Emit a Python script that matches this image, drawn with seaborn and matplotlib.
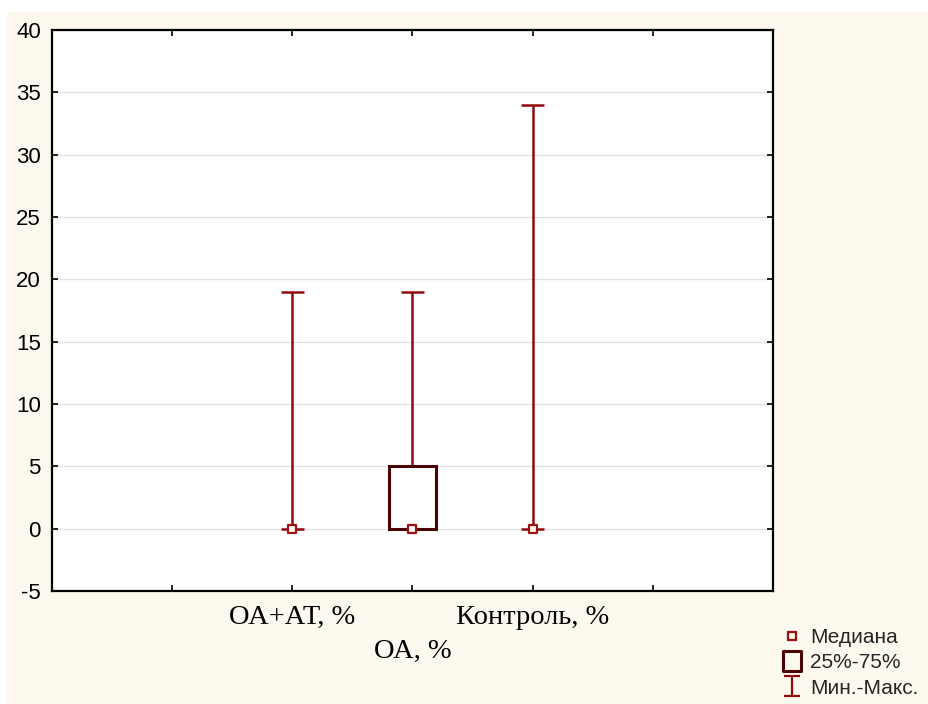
import matplotlib
matplotlib.use("Agg")
import matplotlib.pyplot as plt
from matplotlib.patches import Rectangle
from matplotlib.lines import Line2D
from matplotlib.path import Path
import seaborn as sns
import pandas as pd

# ---- data ----
categories = ["ОА+АТ, %", "ОА, %", "Контроль, %"]
medians = [0, 0, 0]
q1 = [0, 0, 0]
q3 = [0, 5, 0]
mins = [0, 0, 0]
maxs = [19, 19, 34]
positions = [2, 3, 4]
y_ticks = [-5, 0, 5, 10, 15, 20, 25, 30, 35, 40]
legend_labels = ["Медиана", "25%-75%", "Мин.-Макс."]

sns.set_theme(style="white")
plt.rcParams["font.family"] = ["Liberation Sans", "DejaVu Sans"]
plt.rcParams["axes.unicode_minus"] = False

WHISK = "#8E0A0A"
BOXC = "#4A0404"
MEDC = "#A30F0F"
CREAM = "#FEF9EE"

fig = plt.figure(figsize=(9.29, 7.04), dpi=100, facecolor="white")
fig.patches.append(Rectangle((7 / 929, 0), 1, 1 - 12 / 704, transform=fig.transFigure,
                             facecolor=CREAM, edgecolor="none", zorder=-10))
ax = fig.add_axes([52 / 929, 1 - 591 / 704, (773 - 52) / 929, (591 - 30) / 704])
ax.set_facecolor("white")

# whiskers and caps
ax.vlines(positions, mins, maxs, color=WHISK, lw=1.8, zorder=3)
cap_w = 0.19
for p, lo, hi in zip(positions, mins, maxs):
    ax.hlines([lo, hi], p - cap_w / 2, p + cap_w / 2, color=WHISK, lw=1.8, zorder=3)

# boxes (only non-degenerate)
box_x = [p for p, a, b in zip(positions, q1, q3) if b > a]
box_b = [a for a, b in zip(q1, q3) if b > a]
box_h = [b - a for a, b in zip(q1, q3) if b > a]
ax.bar(box_x, box_h, bottom=box_b, width=0.39, facecolor="white",
       edgecolor=BOXC, linewidth=2.2, zorder=4)

# medians
df = pd.DataFrame({"pos": positions, "median": medians})
sns.scatterplot(data=df, x="pos", y="median", marker="s", s=40, facecolor="white",
                edgecolor=MEDC, linewidth=1.6, zorder=5, ax=ax)

ax.set_xlim(0, 6)
ax.set_ylim(-5, 40)
ax.set_yticks(y_ticks)
ax.set_yticklabels([str(v) for v in y_ticks])
ax.set_xticks([1, 2, 3, 4, 5])
ax.set_xticklabels(["", categories[0], "\n" + categories[1], categories[2], ""])
for lab in ax.get_xticklabels():
    lab.set_fontfamily(["Liberation Serif", "DejaVu Serif"])
    lab.set_fontsize(20.5)
    lab.set_linespacing(1.45)
    lab.set_color("black")
ax.set_xlabel("")
ax.set_ylabel("")
ax.yaxis.grid(True, color="#E2E2E2", linewidth=1.0, zorder=0)
ax.xaxis.grid(False)
ax.set_axisbelow(True)
ax.tick_params(axis="y", labelsize=16, colors="black", direction="in", length=4,
               width=1.2, pad=8, left=True, right=True)
ax.tick_params(axis="x", direction="in", length=4, width=1.2, pad=10,
               bottom=True, top=True, colors="black")
for sp in ax.spines.values():
    sp.set_color("black")
    sp.set_linewidth(1.6)

# legend
ibeam = Path([(-0.85, -1), (0.85, -1), (0, -1), (0, 1), (-0.85, 1), (0.85, 1)],
             [Path.MOVETO, Path.LINETO, Path.MOVETO, Path.LINETO, Path.MOVETO, Path.LINETO])
rect = Path([(-0.45, -0.5), (0.45, -0.5), (0.45, 0.5), (-0.45, 0.5), (-0.45, -0.5)],
            [Path.MOVETO, Path.LINETO, Path.LINETO, Path.LINETO, Path.CLOSEPOLY])
handles = [
    Line2D([], [], marker="s", linestyle="none", markersize=6, markerfacecolor="none",
           markeredgecolor=MEDC, markeredgewidth=1.6),
    Line2D([], [], marker=rect, linestyle="none", markersize=14, markerfacecolor="none",
           markeredgecolor=BOXC, markeredgewidth=2.2),
    Line2D([], [], marker=ibeam, linestyle="none", markersize=14, markerfacecolor="none",
           markeredgecolor=WHISK, markeredgewidth=1.6),
]
fig.legend(handles, legend_labels, loc="lower left", bbox_to_anchor=(775 / 929, 0.0),
           frameon=False, fontsize=15, handlelength=1.0, handletextpad=0.4,
           labelspacing=0.3, borderaxespad=0.0, borderpad=0.3)

fig.savefig("out.png", dpi=100, facecolor=fig.get_facecolor())
